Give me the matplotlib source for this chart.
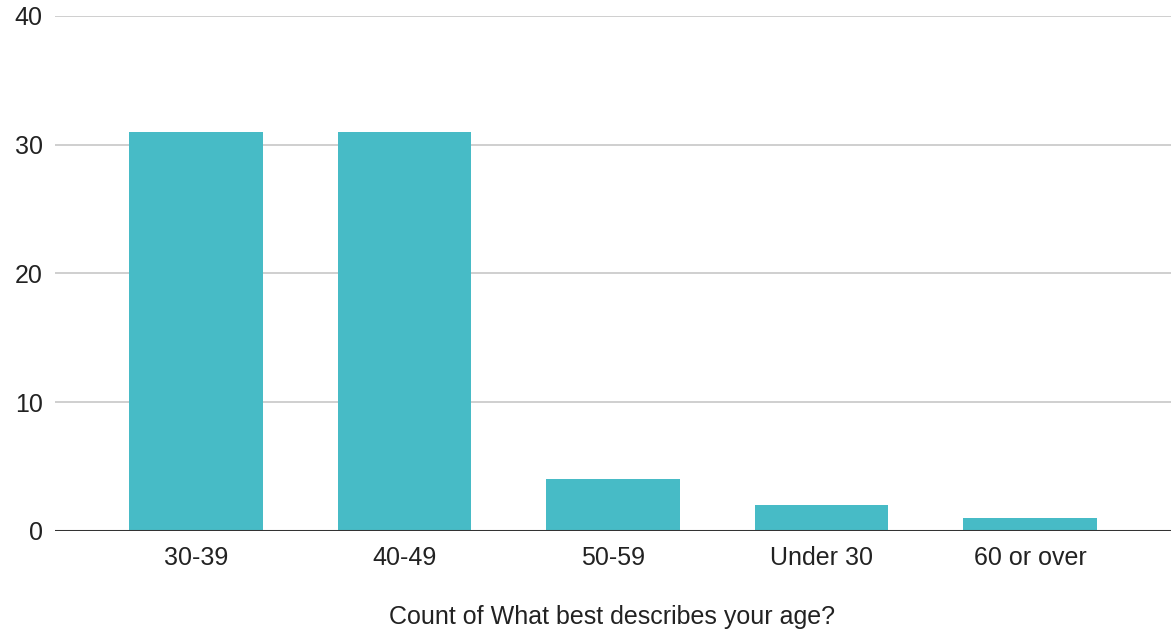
import matplotlib.pyplot as plt

# Age distribution counts
categories = ['30-39', '40-49', '50-59', 'Under 30', '60 or over']
counts = [31, 31, 4, 2, 1]
y_ticks = [0, 10, 20, 30, 40]

plt.rcParams['font.family'] = ['Liberation Sans', 'DejaVu Sans']

fig = plt.figure(figsize=(11.71, 6.34), dpi=100)
ax = fig.add_axes([0.047, 0.1625, 0.953, 0.8123])

x = range(len(categories))
ax.bar(x, counts, width=0.64, color='#47BBC6', zorder=3)

ax.set_xlim(-0.675, 4.675)
ax.set_ylim(0, 40)
ax.set_yticks(y_ticks)
ax.set_xticks(list(x))
ax.set_xticklabels(categories)

ax.grid(axis='y', color='#cccccc', linewidth=1.3, zorder=0)
ax.axhline(0, color='#333333', linewidth=2.2, zorder=4)
for s in ax.spines.values():
    s.set_visible(False)
ax.tick_params(axis='both', length=0, labelsize=18, colors='#222222')
ax.tick_params(axis='y', pad=9)
ax.tick_params(axis='x', pad=11)

ax.set_xlabel('Count of What best describes your age?', fontsize=18,
              color='#222222')
ax.xaxis.label.set_va('center')
ax.xaxis.set_label_coords(0.499, -0.167)

fig.savefig('out.png', dpi=100)
